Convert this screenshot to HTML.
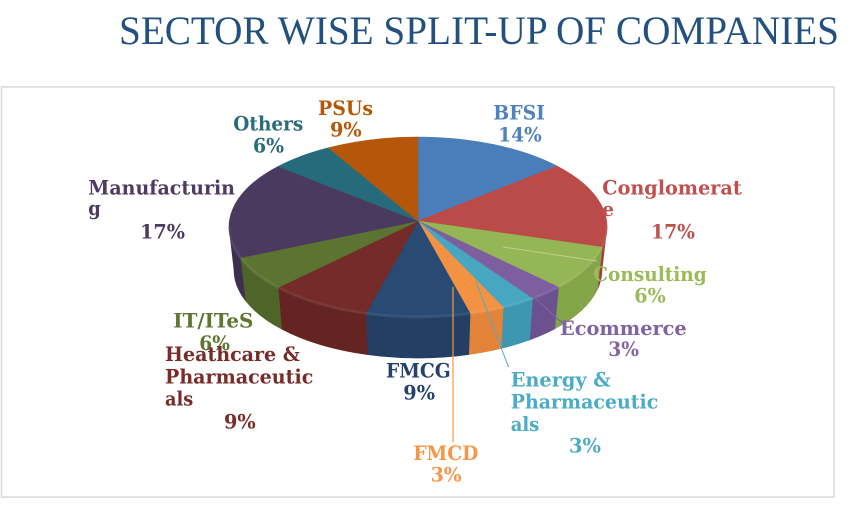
<!DOCTYPE html>
<html>
<head>
<meta charset="utf-8">
<style>
  html,body{margin:0;padding:0;background:#fff;}
  svg{display:block;}
  .l{font-family:"DejaVu Serif","Liberation Serif",serif;font-weight:bold;font-size:20px;}
</style>
</head>
<body>
<svg width="859" height="525" viewBox="0 0 859 525" xmlns="http://www.w3.org/2000/svg">
  <rect width="859" height="525" fill="#ffffff"/>
  <text x="119" y="44" font-family="Liberation Serif, serif" font-size="40" fill="#22507f" textLength="720" lengthAdjust="spacingAndGlyphs">SECTOR WISE SPLIT-UP OF COMPANIES</text>
  <rect x="1.5" y="87" width="832.5" height="410" fill="none" stroke="#d9d9d9" stroke-width="1.5"/>

  <!-- side walls -->
  <g stroke-width="0.6">
    <path d="M607 227 A189 90 0 0 1 602.2 247.3 L597.3 289.8 A184 88 0 0 0 602 270 Z" fill="#a3403d" stroke="#a3403d"/>
    <path d="M602.2 247.3 A189 90 0 0 1 558.4 287.2 L554.7 328.9 A184 88 0 0 0 597.3 289.8 Z" fill="#83a449" stroke="#83a449"/>
    <path d="M558.4 287.2 A189 90 0 0 1 532.5 298.6 L529.5 340.0 A184 88 0 0 0 554.7 328.9 Z" fill="#6c5190" stroke="#6c5190"/>
    <path d="M532.5 298.6 A189 90 0 0 1 503.2 307.3 L501.0 348.5 A184 88 0 0 0 529.5 340.0 Z" fill="#3d97b0" stroke="#3d97b0"/>
    <path d="M503.2 307.3 A189 90 0 0 1 470.1 313.5 L468.7 354.6 A184 88 0 0 0 501.0 348.5 Z" fill="#e3843a" stroke="#e3843a"/>
    <path d="M470.1 313.5 A189 90 0 0 1 365.9 313.5 L367.3 354.6 A184 88 0 0 0 468.7 354.6 Z" fill="#233f64" stroke="#233f64"/>
    <path d="M365.9 313.5 A189 90 0 0 1 278.0 287.5 L281.7 329.1 A184 88 0 0 0 367.3 354.6 Z" fill="#632422" stroke="#632422"/>
    <path d="M278.0 287.5 A189 90 0 0 1 240.4 257.8 L245.1 300.1 A184 88 0 0 0 281.7 329.1 Z" fill="#4e6428" stroke="#4e6428"/>
    <path d="M240.4 257.8 A189 90 0 0 1 229 227 L234 270 A184 88 0 0 0 245.1 300.1 Z" fill="#3d2f4f" stroke="#3d2f4f"/>
  </g>

  <!-- top faces -->
  <g stroke-width="0.6">
    <path d="M418 221 L418 137 A189 90 0 0 1 557.1 166.1 Z" fill="#4a7ebb" stroke="#4a7ebb"/>
    <path d="M418 221 L557.1 166.1 A189 90 0 0 1 602.2 247.3 Z" fill="#bb4b48" stroke="#bb4b48"/>
    <path d="M418 221 L602.2 247.3 A189 90 0 0 1 558.4 287.2 Z" fill="#95b655" stroke="#95b655"/>
    <path d="M418 221 L558.4 287.2 A189 90 0 0 1 532.5 298.6 Z" fill="#7d5f9f" stroke="#7d5f9f"/>
    <path d="M418 221 L532.5 298.6 A189 90 0 0 1 503.2 307.3 Z" fill="#47a7c1" stroke="#47a7c1"/>
    <path d="M418 221 L503.2 307.3 A189 90 0 0 1 470.1 313.5 Z" fill="#f39242" stroke="#f39242"/>
    <path d="M418 221 L470.1 313.5 A189 90 0 0 1 365.9 313.5 Z" fill="#294b73" stroke="#294b73"/>
    <path d="M418 221 L365.9 313.5 A189 90 0 0 1 278.0 287.5 Z" fill="#742b29" stroke="#742b29"/>
    <path d="M418 221 L278.0 287.5 A189 90 0 0 1 240.4 257.8 Z" fill="#5c7431" stroke="#5c7431"/>
    <path d="M418 221 L240.4 257.8 A189 90 0 0 1 278.2 166.4 Z" fill="#4b3a5f" stroke="#4b3a5f"/>
    <path d="M418 221 L278.2 166.4 A189 90 0 0 1 328.4 147.8 Z" fill="#266b7c" stroke="#266b7c"/>
    <path d="M418 221 L328.4 147.8 A189 90 0 0 1 418 137 Z" fill="#b4570b" stroke="#b4570b"/>
  </g>
  <path d="M607 227 A189 90 0 0 1 229 227" fill="none" stroke="#ffffff" stroke-opacity="0.07" stroke-width="3"/>

  <!-- leader lines -->
  <line x1="503" y1="247" x2="597" y2="261" stroke="#b9d28a" stroke-width="1"/>
  <line x1="533" y1="296" x2="562" y2="323" stroke="#8064a2" stroke-width="1"/>
  <line x1="476" y1="282" x2="508.5" y2="367" stroke="#4bacc6" stroke-width="1"/>
  <line x1="453" y1="287" x2="453" y2="442" stroke="#f79646" stroke-width="1.2"/>

  <!-- labels -->
  <g class="l">
    <text x="318" y="115" fill="#b65708" textLength="55" lengthAdjust="spacingAndGlyphs">PSUs</text>
    <text x="330" y="136.7" fill="#b65708" textLength="31.7" lengthAdjust="spacingAndGlyphs">9%</text>

    <text x="233.3" y="130.5" fill="#2a6b7c" textLength="70" lengthAdjust="spacingAndGlyphs">Others</text>
    <text x="253" y="152.5" fill="#2a6b7c" textLength="31" lengthAdjust="spacingAndGlyphs">6%</text>

    <text x="493.3" y="119.3" fill="#4f81bd" textLength="51.7" lengthAdjust="spacingAndGlyphs">BFSI</text>
    <text x="498.3" y="141.7" fill="#4f81bd" textLength="43.4" lengthAdjust="spacingAndGlyphs">14%</text>

    <text x="602.3" y="194.3" fill="#c0504d" textLength="139.4" lengthAdjust="spacingAndGlyphs">Conglomerat</text>
    <text x="602.3" y="216" fill="#c0504d" textLength="11.7" lengthAdjust="spacingAndGlyphs">e</text>
    <text x="651" y="238.3" fill="#c0504d" textLength="44" lengthAdjust="spacingAndGlyphs">17%</text>

    <text x="88.3" y="194.3" fill="#4d3b62" textLength="146.7" lengthAdjust="spacingAndGlyphs">Manufacturin</text>
    <text x="88.3" y="215" fill="#4d3b62" textLength="12.5" lengthAdjust="spacingAndGlyphs">g</text>
    <text x="140" y="238.3" fill="#4d3b62" textLength="45" lengthAdjust="spacingAndGlyphs">17%</text>

    <text x="593.3" y="281" fill="#9bbb59" textLength="113.4" lengthAdjust="spacingAndGlyphs">Consulting</text>
    <text x="634.3" y="302.7" fill="#9bbb59" textLength="31.4" lengthAdjust="spacingAndGlyphs">6%</text>

    <text x="560" y="335" fill="#8064a2" textLength="126.7" lengthAdjust="spacingAndGlyphs">Ecommerce</text>
    <text x="608.3" y="356" fill="#8064a2" textLength="30.7" lengthAdjust="spacingAndGlyphs">3%</text>

    <text x="510.7" y="386.7" fill="#4bacc6" textLength="100" lengthAdjust="spacingAndGlyphs">Energy &amp;</text>
    <text x="510.7" y="408.3" fill="#4bacc6" textLength="147.6" lengthAdjust="spacingAndGlyphs">Pharmaceutic</text>
    <text x="510.7" y="431" fill="#4bacc6" textLength="28.6" lengthAdjust="spacingAndGlyphs">als</text>
    <text x="569" y="452.7" fill="#4bacc6" textLength="32" lengthAdjust="spacingAndGlyphs">3%</text>

    <text x="413.3" y="460" fill="#f79646" textLength="65" lengthAdjust="spacingAndGlyphs">FMCD</text>
    <text x="430.7" y="481.7" fill="#f79646" textLength="31" lengthAdjust="spacingAndGlyphs">3%</text>

    <text x="386" y="377.3" fill="#24426d" textLength="64.7" lengthAdjust="spacingAndGlyphs">FMCG</text>
    <text x="403.3" y="399.3" fill="#24426d" textLength="31.7" lengthAdjust="spacingAndGlyphs">9%</text>

    <text x="173.3" y="327.3" fill="#5f7530" textLength="80" lengthAdjust="spacingAndGlyphs">IT/ITeS</text>
    <text x="199.3" y="350" fill="#5f7530" textLength="30.7" lengthAdjust="spacingAndGlyphs">6%</text>

    <text x="165" y="361" fill="#772c2a" textLength="135" lengthAdjust="spacingAndGlyphs">Heathcare &amp;</text>
    <text x="165" y="383.3" fill="#772c2a" textLength="148.3" lengthAdjust="spacingAndGlyphs">Pharmaceutic</text>
    <text x="165" y="405.7" fill="#772c2a" textLength="28.3" lengthAdjust="spacingAndGlyphs">als</text>
    <text x="224" y="428.3" fill="#772c2a" textLength="31.7" lengthAdjust="spacingAndGlyphs">9%</text>
  </g>
</svg>
</body>
</html>
